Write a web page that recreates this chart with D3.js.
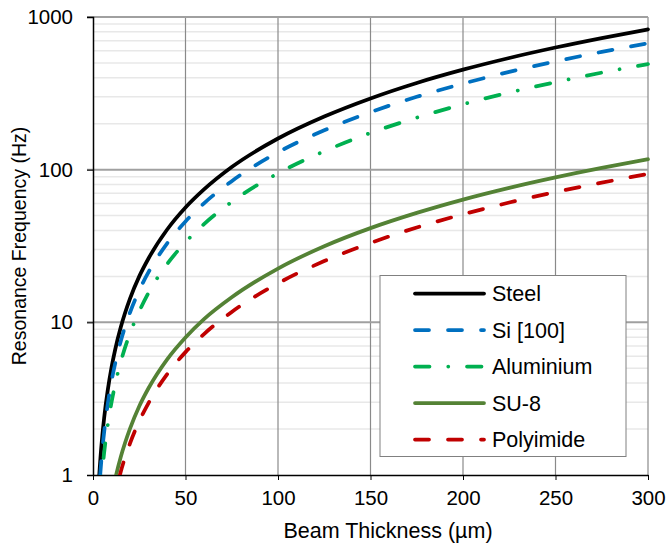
<!DOCTYPE html>
<html>
<head>
<meta charset="utf-8">
<script src="https://cdn.jsdelivr.net/npm/d3@7"></script>
<style>
  html, body { margin: 0; padding: 0; background: #fff; }
  svg { display: block; font-family: "Liberation Sans", Arial, sans-serif; }
</style>
</head>
<body>
<svg id="chart" width="667" height="550"></svg>
<script>
// Beam thickness (µm) sample points
const thickness = [2, 3, 4, 5, 6, 8, 10, 12, 15, 20, 25, 30, 40, 50, 60, 75, 100, 125, 150, 175, 200, 225, 250, 275, 300];
// Resonance frequency (Hz) per material
const steel     = [0.45, 0.83, 1.28, 1.79, 2.35, 3.61, 5.05, 6.64, 9.28, 14.3, 20.0, 26.2, 40.4, 56.5, 74.2, 104, 160, 223, 293, 370, 452, 539, 631, 728, 830];
const silicon   = [0.37, 0.67, 1.04, 1.45, 1.90, 2.93, 4.10, 5.38, 7.52, 11.6, 16.2, 21.3, 32.8, 45.8, 60.2, 84.1, 130, 181, 238, 300, 366, 437, 512, 591, 673];
const aluminium = [0.27, 0.49, 0.76, 1.06, 1.39, 2.14, 2.99, 3.94, 5.50, 8.47, 11.8, 15.6, 24.0, 33.5, 44.0, 61.5, 94.7, 132, 174, 219, 268, 320, 374, 432, 492];
const su8       = [0.064, 0.117, 0.18, 0.25, 0.33, 0.51, 0.71, 0.94, 1.31, 2.01, 2.82, 3.70, 5.70, 7.96, 10.5, 14.6, 22.5, 31.5, 41.4, 52.1, 63.7, 76.0, 89.0, 102.7, 117];
const polyimide = [0.051, 0.094, 0.144, 0.20, 0.265, 0.41, 0.57, 0.75, 1.05, 1.61, 2.25, 2.96, 4.56, 6.38, 8.38, 11.7, 18.0, 25.2, 33.1, 41.8, 51.0, 60.9, 71.3, 82.2, 93.7];

const seriesNames = ["Steel", "Si [100]", "Aluminium", "SU-8", "Polyimide"];
const xTicks = [0, 50, 100, 150, 200, 250, 300];
const yTicks = [1, 10, 100, 1000];
const xTitle = "Beam Thickness (µm)";
const yTitle = "Resonance Frequency (Hz)";

const styles = [
  { color: "#000000", dash: null },
  { color: "#0070C0", dash: "14,19" },
  { color: "#00B050", dash: "14.5,18.75,0.01,18.75" },
  { color: "#548235", dash: null },
  { color: "#C00000", dash: "14,19" }
];
const values = [steel, silicon, aluminium, su8, polyimide];

const svg = d3.select("#chart");
const L = 93, R = 648, T = 17, B = 475;
const x = d3.scaleLinear().domain([0, 300]).range([L, R]);
const y = d3.scaleLog().domain([1, 1000]).range([B, T]);

// minor horizontal gridlines
const minor = [];
[1, 10, 100].forEach(d => { for (let k = 2; k <= 9; k++) minor.push(d * k); });
svg.append("g").selectAll("line").data(minor).join("line")
  .attr("x1", L).attr("x2", R)
  .attr("y1", d => y(d)).attr("y2", d => y(d))
  .attr("stroke", "#e8e8e8").attr("stroke-width", 1.5);

// vertical gridlines
svg.append("g").selectAll("line").data(xTicks.filter(d => d > 0)).join("line")
  .attr("x1", d => x(d)).attr("x2", d => x(d))
  .attr("y1", T).attr("y2", B)
  .attr("stroke", "#8a8a8a").attr("stroke-width", 1.2);

// major horizontal gridlines (extend into tick)
svg.append("g").selectAll("line").data(yTicks.filter(d => d > 1)).join("line")
  .attr("x1", L - 6).attr("x2", R)
  .attr("y1", d => y(d)).attr("y2", d => y(d))
  .attr("stroke", "#a0a0a0").attr("stroke-width", 2);

// y axis
const yAxis = d3.axisLeft(y).tickValues(yTicks).tickFormat(d3.format("d")).tickSize(6).tickPadding(14);
const gy = svg.append("g").attr("transform", `translate(${L},0)`).call(yAxis);
gy.select(".domain").attr("stroke", "#000").attr("stroke-width", 1.5);
gy.selectAll(".tick line").attr("stroke", "#000").attr("stroke-width", 1);
gy.selectAll(".tick text").attr("font-size", 20.5).attr("fill", "#000")
  .attr("font-family", "Liberation Sans, Arial, sans-serif");

// x axis
const xAxis = d3.axisBottom(x).tickValues(xTicks).tickSize(5).tickPadding(10).tickSizeOuter(0);
const gx = svg.append("g").attr("transform", `translate(0,${B})`).call(xAxis);
gx.select(".domain").attr("stroke", "#000").attr("stroke-width", 1.5);
gx.selectAll(".tick line").attr("stroke", "#000").attr("stroke-width", 1);
gx.selectAll(".tick text").attr("font-size", 20.5).attr("fill", "#000")
  .attr("font-family", "Liberation Sans, Arial, sans-serif");

// axis titles
svg.append("text").attr("x", 388).attr("y", 538).attr("text-anchor", "middle")
  .attr("font-size", 21.5).text(xTitle);
svg.append("text").attr("transform", `translate(26,${(T + B) / 2}) rotate(-90)`)
  .attr("text-anchor", "middle").attr("font-size", 19.5).text(yTitle);

// clip
svg.append("clipPath").attr("id", "plotclip").append("rect")
  .attr("x", L).attr("y", T - 5).attr("width", R - L + 5).attr("height", B - T + 5);

const line = d3.line().x((d, i) => x(thickness[i])).y(d => y(d)).curve(d3.curveMonotoneX);
const gs = svg.append("g").attr("clip-path", "url(#plotclip)");
values.forEach((vals, i) => {
  gs.append("path").datum(vals).attr("d", line)
    .attr("fill", "none").attr("stroke", styles[i].color)
    .attr("stroke-width", 3.75).attr("stroke-linecap", "round")
    .attr("stroke-linejoin", "round")
    .attr("stroke-dasharray", styles[i].dash);
});

// legend
const lg = svg.append("g");
lg.append("rect").attr("x", 380).attr("y", 275.5).attr("width", 246).attr("height", 181)
  .attr("fill", "#fff").attr("stroke", "#808080").attr("stroke-width", 1);
const rowY = [293.5, 330, 366.5, 403, 439.5];
seriesNames.forEach((name, i) => {
  lg.append("line").attr("x1", 415).attr("x2", 484).attr("y1", rowY[i]).attr("y2", rowY[i])
    .attr("stroke", styles[i].color).attr("stroke-width", 3.75)
    .attr("stroke-linecap", "round").attr("stroke-dasharray", styles[i].dash);
  lg.append("text").attr("x", 492).attr("y", rowY[i]).attr("dy", "0.36em")
    .attr("font-size", 21.5).attr("fill", "#000").text(name);
});
</script>
</body>
</html>
